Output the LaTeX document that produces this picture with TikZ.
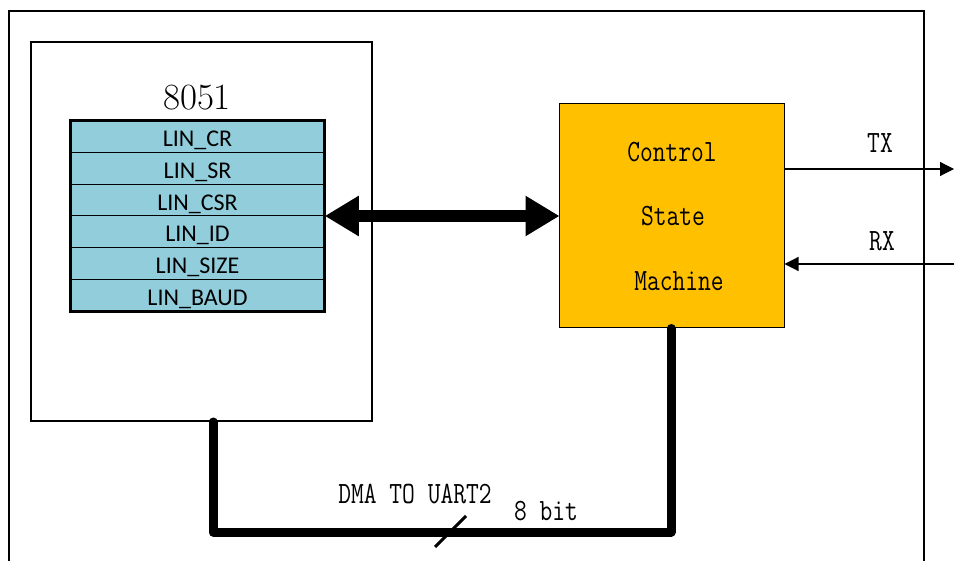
\documentclass[tikz,border=0pt]{standalone}
\usepackage{fontspec}
\usepackage{graphicx}
\newfontfamily\calfont{Carlito}
\usetikzlibrary{arrows.meta,fit}
\definecolor{regblue}{RGB}{146,205,220}
\definecolor{csmorange}{RGB}{255,192,0}
\newcommand{\narrowtxt}[1]{\scalebox{0.8}[1.0]{#1}}
\begin{document}
\begin{tikzpicture}[x=1pt,y=-1pt,
  reg/.style={draw, line width=1pt, fill=regblue, minimum width=253pt, minimum height=31.67pt,
    inner sep=0pt, text height=20pt, text depth=0pt, font=\calfont\fontsize{24}{24}\selectfont},
  lbl/.style={inner sep=0pt, font=\ttfamily\fontsize{31}{31}\selectfont},
  bus/.style={line width=9pt, line cap=round, line join=round},
  sig/.style={line width=1.2pt, -{Triangle[length=14pt,width=14pt]}}]
\useasboundingbox (0,0) rectangle (954,561);
% outer frame
\draw[line width=2.5pt] (9,561) -- (9,11) -- (924,11) -- (924,561);
% 8051 box
\node[draw, line width=2pt, minimum width=341pt, minimum height=379pt, inner sep=0pt] (mcu) at (201.5,231.5) {};
\node[inner sep=0pt, font=\fontsize{37}{37}\selectfont] (mcutitle) at (197,98) {8051};
% registers
\node[reg] (r1) at (197.5,136.8) {LIN\_CR};
\node[reg] (r2) at (197.5,168.5) {LIN\_SR};
\node[reg] (r3) at (197.5,200.2) {LIN\_CSR};
\node[reg] (r4) at (197.5,231.8) {LIN\_ID};
\node[reg] (r5) at (197.5,263.5) {LIN\_SIZE};
\node[reg] (r6) at (197.5,295.2) {LIN\_BAUD};
\node[fit=(r1)(r6), draw, line width=2.5pt, inner sep=0pt] (regs) {};
% control state machine
\node[draw, line width=1pt, fill=csmorange, minimum width=225pt, minimum height=224pt, inner sep=0pt] (csm) at (671.5,216) {};
\node[lbl] (c1) at (672,152) {\narrowtxt{Control}};
\node[lbl] (c2) at (673,216) {\narrowtxt{State}};
\node[lbl] (c3) at (679,281) {\narrowtxt{Machine}};
% double arrow
\draw[line width=12pt, {Triangle[length=34pt,width=38pt]}-{Triangle[length=34pt,width=38pt]}, shorten <=-1pt, shorten >=-1pt] (regs.east) -- (csm.west);
% TX / RX
\coordinate (txend) at (954,169);
\coordinate (rxstart) at (960,264);
\draw[sig] (csm.east |- txend) -- (txend);
\draw[sig] (rxstart) -- (csm.east |- rxstart);
\node[lbl] (tx) at (880,143) {\narrowtxt{TX}};
\node[lbl] (rx) at (882,241) {\narrowtxt{RX}};
% bus
\coordinate (b1) at (213,532);
\coordinate (b2) at (671,532);
\draw[bus] (mcu.south -| b1) -- (b1) -- (b2) -- (csm.south -| b2);
\draw[line width=3pt] (435,547) -- (466,516);
\node[lbl] (dma) at (415,494) {\narrowtxt{DMA TO UART2}};
\node[lbl] (bits) at (546,511) {\narrowtxt{8 bit}};
\end{tikzpicture}
\end{document}
